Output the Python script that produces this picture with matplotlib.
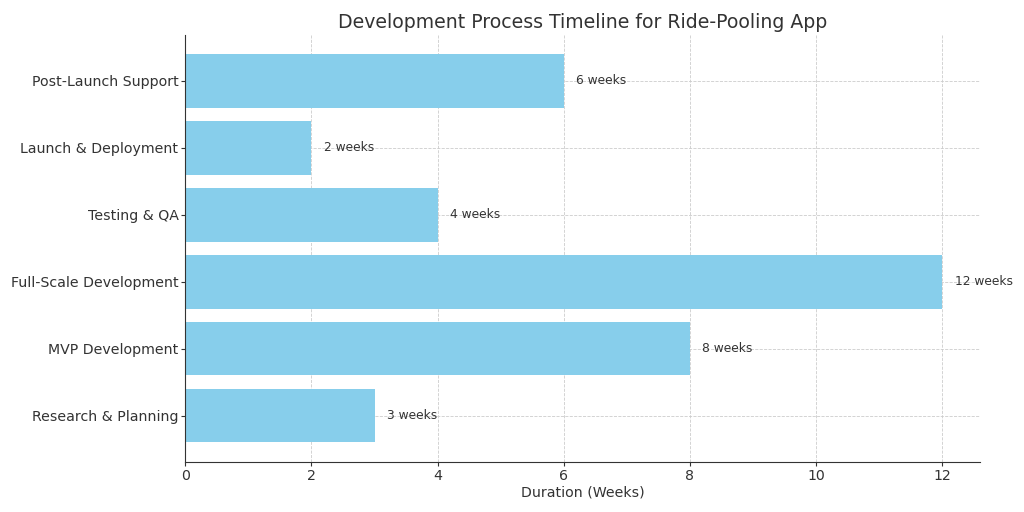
import matplotlib
matplotlib.use("Agg")
import matplotlib.pyplot as plt

categories = ["Research & Planning", "MVP Development", "Full-Scale Development",
              "Testing & QA", "Launch & Deployment", "Post-Launch Support"]
durations = [3, 8, 12, 4, 2, 6]

fig, ax = plt.subplots(figsize=(10.24, 5.12), dpi=100)
fig.subplots_adjust(left=0.181, right=0.957, top=0.932, bottom=0.098)

bars = ax.barh(categories, durations, color="skyblue", height=0.8, zorder=2)
for b, d in zip(bars, durations):
    ax.text(b.get_width() + 0.2, b.get_y() + b.get_height() / 2, f"{d} weeks",
            va="center", ha="left", fontsize=8.8, color="#333333")

ax.set_title("Development Process Timeline for Ride-Pooling App", fontsize=13.6, color="#333333", pad=5)
ax.set_xlabel("Duration (Weeks)", fontsize=10.2, color="#333333", labelpad=2)
ax.tick_params(axis="both", labelsize=10.2, colors="#333333", length=3, pad=2)
ax.grid(True, linestyle="--", color="#cccccc", linewidth=0.6, zorder=0)
ax.set_axisbelow(True)
for s in ["top", "right"]:
    ax.spines[s].set_visible(False)
ax.spines["left"].set_color("#333333")
ax.spines["bottom"].set_color("#333333")

fig.savefig("out.png", dpi=100)
